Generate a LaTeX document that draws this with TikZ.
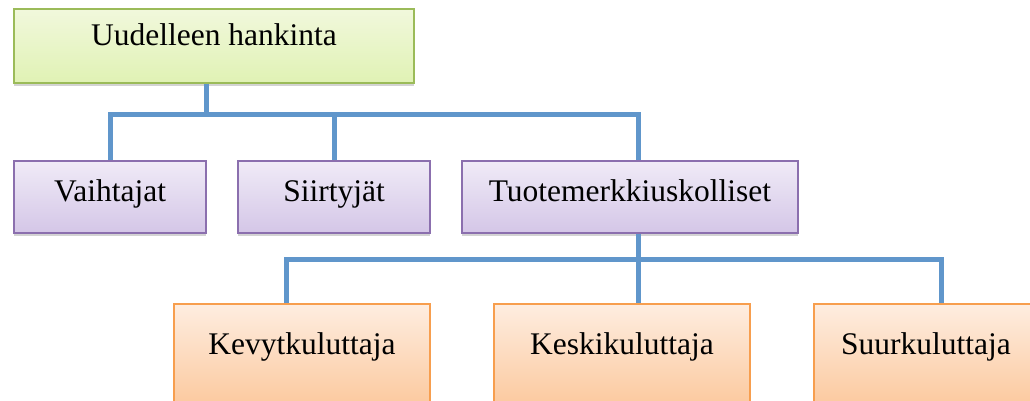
\documentclass[tikz,border=0pt]{standalone}
\usepackage{fontspec}
\setmainfont{Liberation Serif}
\usetikzlibrary{shadows}
\definecolor{rootborder}{HTML}{9BBB59}
\definecolor{roottop}{HTML}{F1F8DC}
\definecolor{rootbot}{HTML}{E0F2B4}
\definecolor{midborder}{HTML}{8B6FAE}
\definecolor{midtop}{HTML}{F0EBF7}
\definecolor{midbot}{HTML}{D4C6E7}
\definecolor{leafborder}{HTML}{F79E4E}
\definecolor{leaftop}{HTML}{FEEDE0}
\definecolor{leafbot}{HTML}{FBBF8C}
\definecolor{linkblue}{HTML}{6096CB}
\begin{document}
\begin{tikzpicture}[x=1pt,y=-1pt,
            box/.style={rectangle,anchor=north west,inner sep=0pt,line width=2pt,
                font=\fontsize{31.5}{36}\selectfont,
                drop shadow={shadow xshift=0pt,shadow yshift=-3pt,opacity=0.35}},
            root node/.style={box,draw=rootborder,top color=roottop,bottom color=rootbot,
                text height=37pt,text depth=37pt},
            mid node/.style={box,draw=midborder,top color=midtop,bottom color=midbot,
                text height=40pt,text depth=32pt},
            leaf node/.style={box,draw=leafborder,top color=leaftop,bottom color=leafbot,
                text height=50pt,text depth=80pt},
            link/.style={draw=linkblue,line width=5pt}]

        \useasboundingbox (0,0) rectangle (1030,401);
        \clip (0,0) rectangle (1030,401);

        % Define boxes
        \node[root node, minimum width=400pt] (root) at (13,8) {Uudelleen hankinta};
        \node[mid node, minimum width=192pt] (vaiht) at (13,160) {Vaihtajat};
        \node[mid node, minimum width=192pt] (siirt) at (237,160) {Siirtyjät};
        \node[mid node, minimum width=336pt] (tuote) at (461,160) {Tuotemerkkiuskolliset};
        \node[leaf node, minimum width=256pt] (kevyt) at (173,303) {Kevytkuluttaja};
        \node[leaf node, minimum width=256pt] (keski) at (493,303) {Keskikuluttaja};
        \node[leaf node, minimum width=224pt] (suur) at (813,303) {Suurkuluttaja};

        % Draw connectors
        \draw[link] ([xshift=-8pt]root.south) -- ++(0,31) coordinate (drop1);
        \draw[link] (vaiht.north) |- ([xshift=8pt]tuote.north |- drop1)
            -- ([xshift=8pt]tuote.north);
        \draw[link] (siirt.north) -- (siirt.north |- drop1);
        \draw[link] ([xshift=8pt]tuote.south) -- ([xshift=16pt]keski.north);
        \path ([xshift=8pt]tuote.south) ++(0,25) coordinate (drop2);
        \draw[link] ([xshift=-16pt]kevyt.north) |- ([xshift=15pt]suur.north |- drop2)
            -- ([xshift=15pt]suur.north);

\end{tikzpicture}
\end{document}
